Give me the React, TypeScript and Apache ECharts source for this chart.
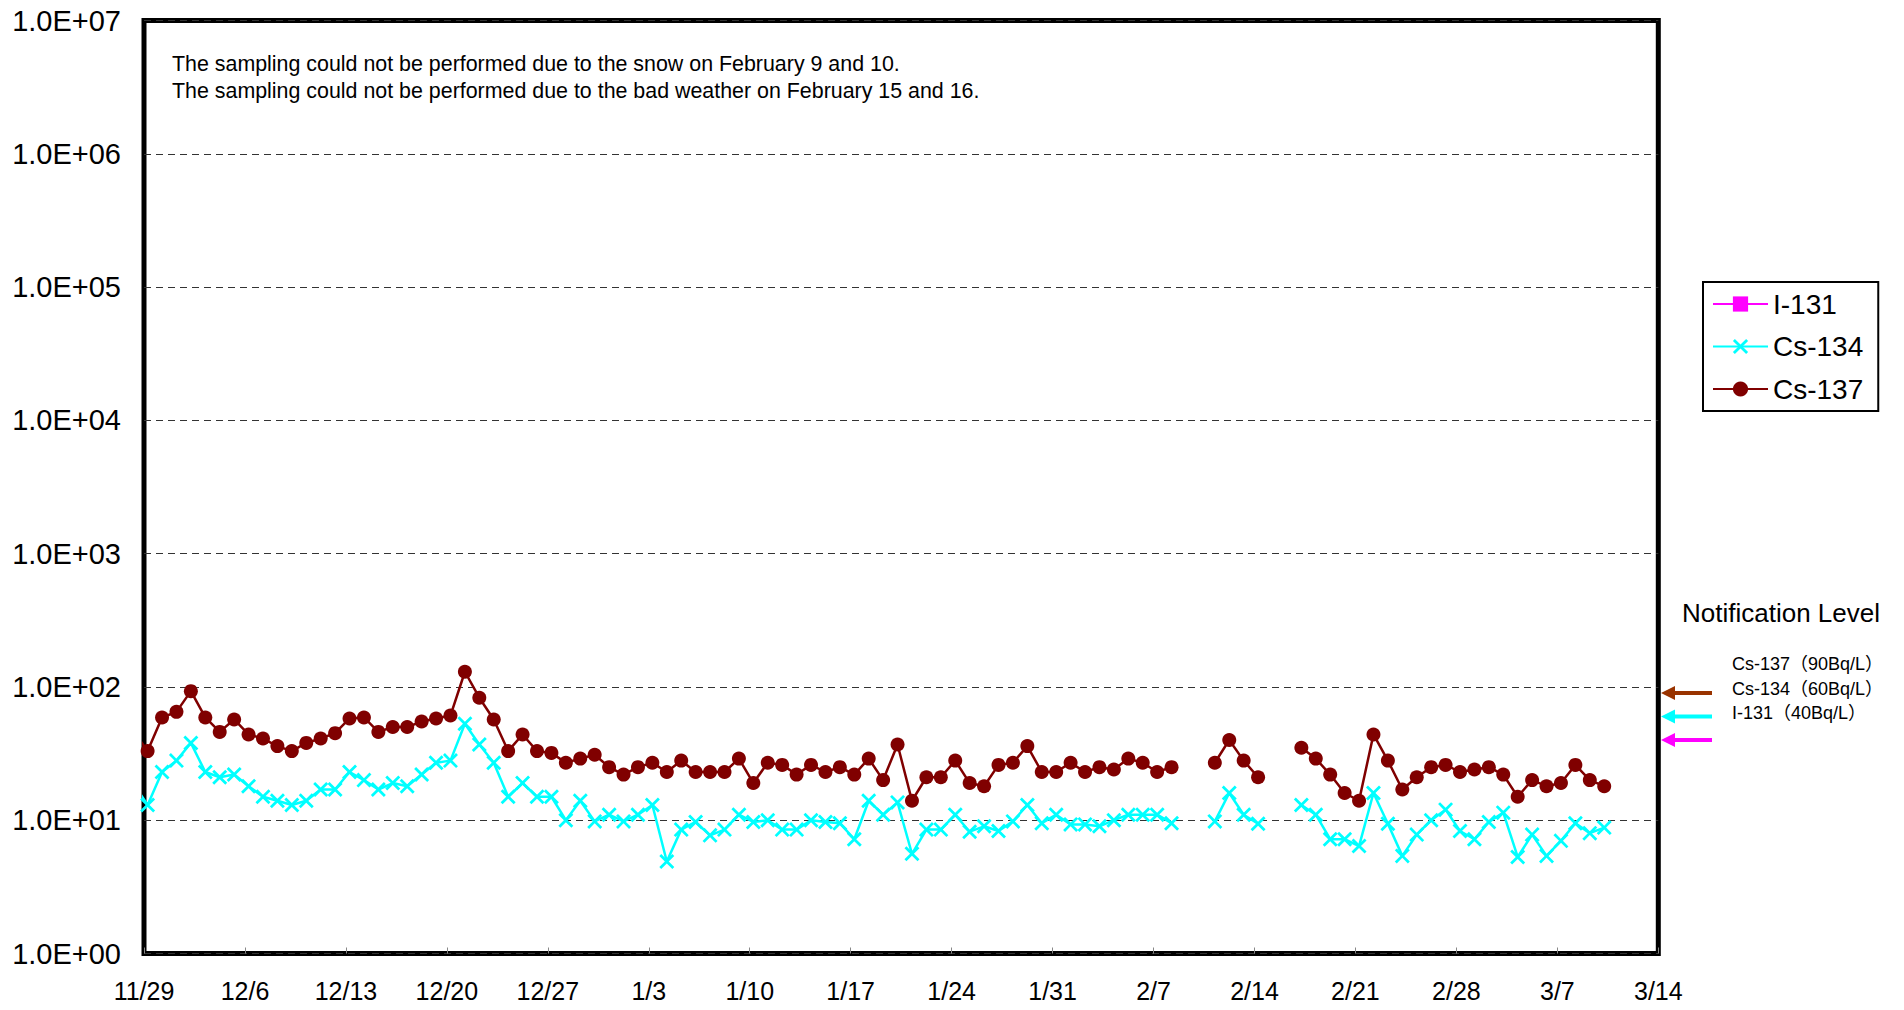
import React, { useEffect, useRef } from "react";
import * as echarts from "echarts";

// ---- data ----
const FIRST_SAMPLE_DATE = "2013-11-28"; // first value in the arrays below
const AXIS_START_DATE = "2013-11-29"; // left edge of the x axis
const SAMPLE_HOUR = 6; // sampling time of day
const X_TICK_LABELS = [
  "11/29", "12/6", "12/13", "12/20", "12/27", "1/3", "1/10", "1/17",
  "1/24", "1/31", "2/7", "2/14", "2/21", "2/28", "3/7", "3/14",
];
const Y_TICK_LABELS = [
  "1.0E+00", "1.0E+01", "1.0E+02", "1.0E+03",
  "1.0E+04", "1.0E+05", "1.0E+06", "1.0E+07",
];
const SERIES_NAMES = ["I-131", "Cs-134", "Cs-137"];

// I-131: not detected over the whole period
const I131: (number | null)[] = [];

// daily values from 11/28 to 3/10 (null = no sampling)
const CS134: (number | null)[] = [
  19, 13, 23, 28, 38, 23, 21, 22, 18, 15, 14, 13, 14, 17, 17, 23, 20, 17, 19, 18,
  22, 27, 28, 53, 37, 27, 15, 19, 15, 15, 10, 14, 9.8, 11, 9.8, 11, 13, 4.9, 8.5, 9.7,
  7.7, 8.5, 11, 9.7, 10, 8.5, 8.5, 10, 9.7, 9.5, 7.2, 14, 11, 13.6, 5.6, 8.5, 8.5, 11, 8.2, 9.0,
  8.3, 9.8, 13, 9.5, 11, 9.3, 9.3, 9.0, 10, 11, 11, 11, 9.5, null, null, 9.8, 16, 11, 9.4, null,
  null, 13, 11, 7.2, 7.2, 6.4, 16, 9.4, 5.4, 7.8, 10, 12, 8.3, 7.2, 9.7, 11.4, 5.3, 7.8, 5.4, 7.0,
  9.5, 8.0, 8.8,
];
const CS137: (number | null)[] = [
  47, 33, 59, 65, 93, 59, 46, 57, 44, 41, 36, 33, 38, 41, 45, 58, 59, 46, 50, 50,
  55, 58, 61, 130, 83, 57, 33, 44, 33, 32, 27, 29, 31, 25, 22, 25, 27, 23, 28, 23,
  23, 23, 29, 19, 27, 26, 22, 26, 23, 25, 22, 29, 20, 37, 14, 21, 21, 28, 19, 18,
  26, 27, 36, 23, 23, 27, 23, 25, 24, 29, 27, 23, 25, null, null, 27, 40, 28, 21, null,
  null, 35, 29, 22, 16, 14, 44, 28, 17, 21, 25, 26, 23, 24, 25, 22, 15, 20, 18, 19,
  26, 20, 18,
];

const NOTIFY_NAMES = ["Cs-137", "Cs-134", "I-131"];
const NOTIFY_LEVELS = [90, 60, 40];

const NOTES = [
  "The sampling could not be performed due to the snow on February 9 and 10.",
  "The sampling could not be performed due to the bad weather on February 15 and 16.",
];

// ---- helpers ----
const DAY_MS = 86400000;
const FONT = "'Liberation Sans', Arial, 'Noto Sans CJK JP', sans-serif";

function toPoints(values: (number | null)[]) {
  const first = Date.parse(FIRST_SAMPLE_DATE + "T00:00:00Z");
  const start = Date.parse(AXIS_START_DATE + "T00:00:00Z");
  return values.map((v, i) => {
    const t = first + i * DAY_MS + SAMPLE_HOUR * 3600000;
    const x = (t - start) / DAY_MS;
    const value = [x, v == null ? "-" : v];
    // samples before the axis start: only their connecting line is seen
    return x < 0 ? { value, symbol: "none" } : value;
  });
}

const COLORS = {
  i131: "#FF00FF",
  cs134: "#00FFFF",
  cs137: "#800000",
};
const ARROW_COLORS = ["#993300", "#00FFFF", "#FF00FF"];
const CROSS =
  "path://M0,1.3 L1.3,0 L5,3.7 L8.7,0 L10,1.3 L6.3,5 L10,8.7 L8.7,10 L5,6.3 L1.3,10 L0,8.7 L3.7,5 Z";

export default function App() {
  const ref = useRef<HTMLDivElement>(null);

  useEffect(() => {
    if (!ref.current) return;
    const chart = echarts.init(ref.current, undefined, { renderer: "svg" });
    const xMax = (X_TICK_LABELS.length - 1) * 7;

    chart.setOption({
      animation: false,
      backgroundColor: "#fff",
      textStyle: { fontFamily: FONT },
      grid: {
        left: 144,
        right: 245.7,
        top: 20.5,
        bottom: 56.5,
        show: true,
        borderColor: "#000",
        borderWidth: 5,
        backgroundColor: "transparent",
      },
      legend: {
        orient: "vertical",
        left: 1703,
        top: 282,
        padding: [8, 15, 8, 9],
        borderColor: "#000",
        borderWidth: 2,
        itemWidth: 55,
        itemHeight: 19,
        itemGap: 14.5,
        data: SERIES_NAMES,
        textStyle: { fontSize: 28, color: "#000", fontFamily: FONT },
      },
      xAxis: {
        type: "value",
        min: 0,
        max: xMax,
        interval: 7,
        axisLine: { show: false },
        axisTick: { show: true, inside: true, length: 6, lineStyle: { color: "#888", width: 1 } },
        splitLine: { show: false },
        axisLabel: {
          fontSize: 25,
          color: "#000",
          margin: 25,
          fontFamily: FONT,
          formatter: (v: number) => X_TICK_LABELS[Math.round(v / 7)] ?? "",
        },
      },
      yAxis: {
        type: "log",
        logBase: 10,
        min: 1,
        max: 1e7,
        interval: 1,
        axisLine: { show: false },
        axisTick: { show: false },
        splitLine: {
          show: true,
          lineStyle: { color: "#333", type: [7, 5], width: 1 },
        },
        axisLabel: {
          fontSize: 29,
          color: "#000",
          margin: 23,
          fontFamily: FONT,
          formatter: (v: number) => Y_TICK_LABELS[Math.round(Math.log10(v))] ?? "",
        },
      },
      series: [
        {
          name: SERIES_NAMES[0],
          type: "line",
          data: toPoints(I131),
          symbol: "rect",
          symbolSize: 14,
          itemStyle: { color: COLORS.i131 },
          lineStyle: { color: COLORS.i131, width: 2.5 },
          connectNulls: false,
        },
        {
          name: SERIES_NAMES[1],
          type: "line",
          data: toPoints(CS134),
          symbol: CROSS,
          symbolSize: 15,
          itemStyle: { color: COLORS.cs134 },
          lineStyle: { color: COLORS.cs134, width: 2.5 },
          connectNulls: false,
          clip: false,
          z: 3,
        },
        {
          name: SERIES_NAMES[2],
          type: "line",
          data: toPoints(CS137),
          symbol: "circle",
          symbolSize: 14,
          itemStyle: { color: COLORS.cs137 },
          lineStyle: { color: COLORS.cs137, width: 2.5 },
          connectNulls: false,
          clip: false,
          z: 2,
        },
      ],
    });

    // graphics: notes, notification level labels and arrows
    const graphics: any[] = [
      {
        type: "text",
        x: 172,
        y: 51,
        style: {
          text: NOTES.join("\n"),
          fontSize: 21.4,
          fontFamily: FONT,
          lineHeight: 26.6,
          fill: "#000",
          verticalAlign: "top",
        },
      },
      {
        type: "text",
        x: 1682,
        y: 613,
        style: {
          text: "Notification Level",
          fontSize: 26,
          fontFamily: FONT,
          fill: "#000",
          verticalAlign: "middle",
        },
      },
    ];
    NOTIFY_NAMES.forEach((name, i) => {
      graphics.push({
        type: "text",
        x: 1732,
        y: 664 + i * 24.6,
        style: {
          text: `${name}（${NOTIFY_LEVELS[i]}Bq/L）`,
          fontSize: 18,
          fontFamily: FONT,
          fill: "#000",
          verticalAlign: "middle",
        },
      });
      const y = chart.convertToPixel({ yAxisIndex: 0 }, NOTIFY_LEVELS[i]) as number;
      const tip = 1661;
      graphics.push({
        type: "group",
        children: [
          {
            type: "line",
            shape: { x1: tip + 10, y1: y, x2: 1712, y2: y },
            style: { stroke: ARROW_COLORS[i], lineWidth: 4 },
          },
          {
            type: "polygon",
            shape: { points: [[tip, y], [tip + 14, y - 7], [tip + 14, y + 7]] },
            style: { fill: ARROW_COLORS[i] },
          },
        ],
      });
    });
    chart.setOption({ graphic: graphics });

    return () => chart.dispose();
  }, []);

  return (
    <div
      ref={ref}
      style={{ position: "fixed", left: 0, top: 0, width: 1904, height: 1010, background: "#fff" }}
    />
  );
}
